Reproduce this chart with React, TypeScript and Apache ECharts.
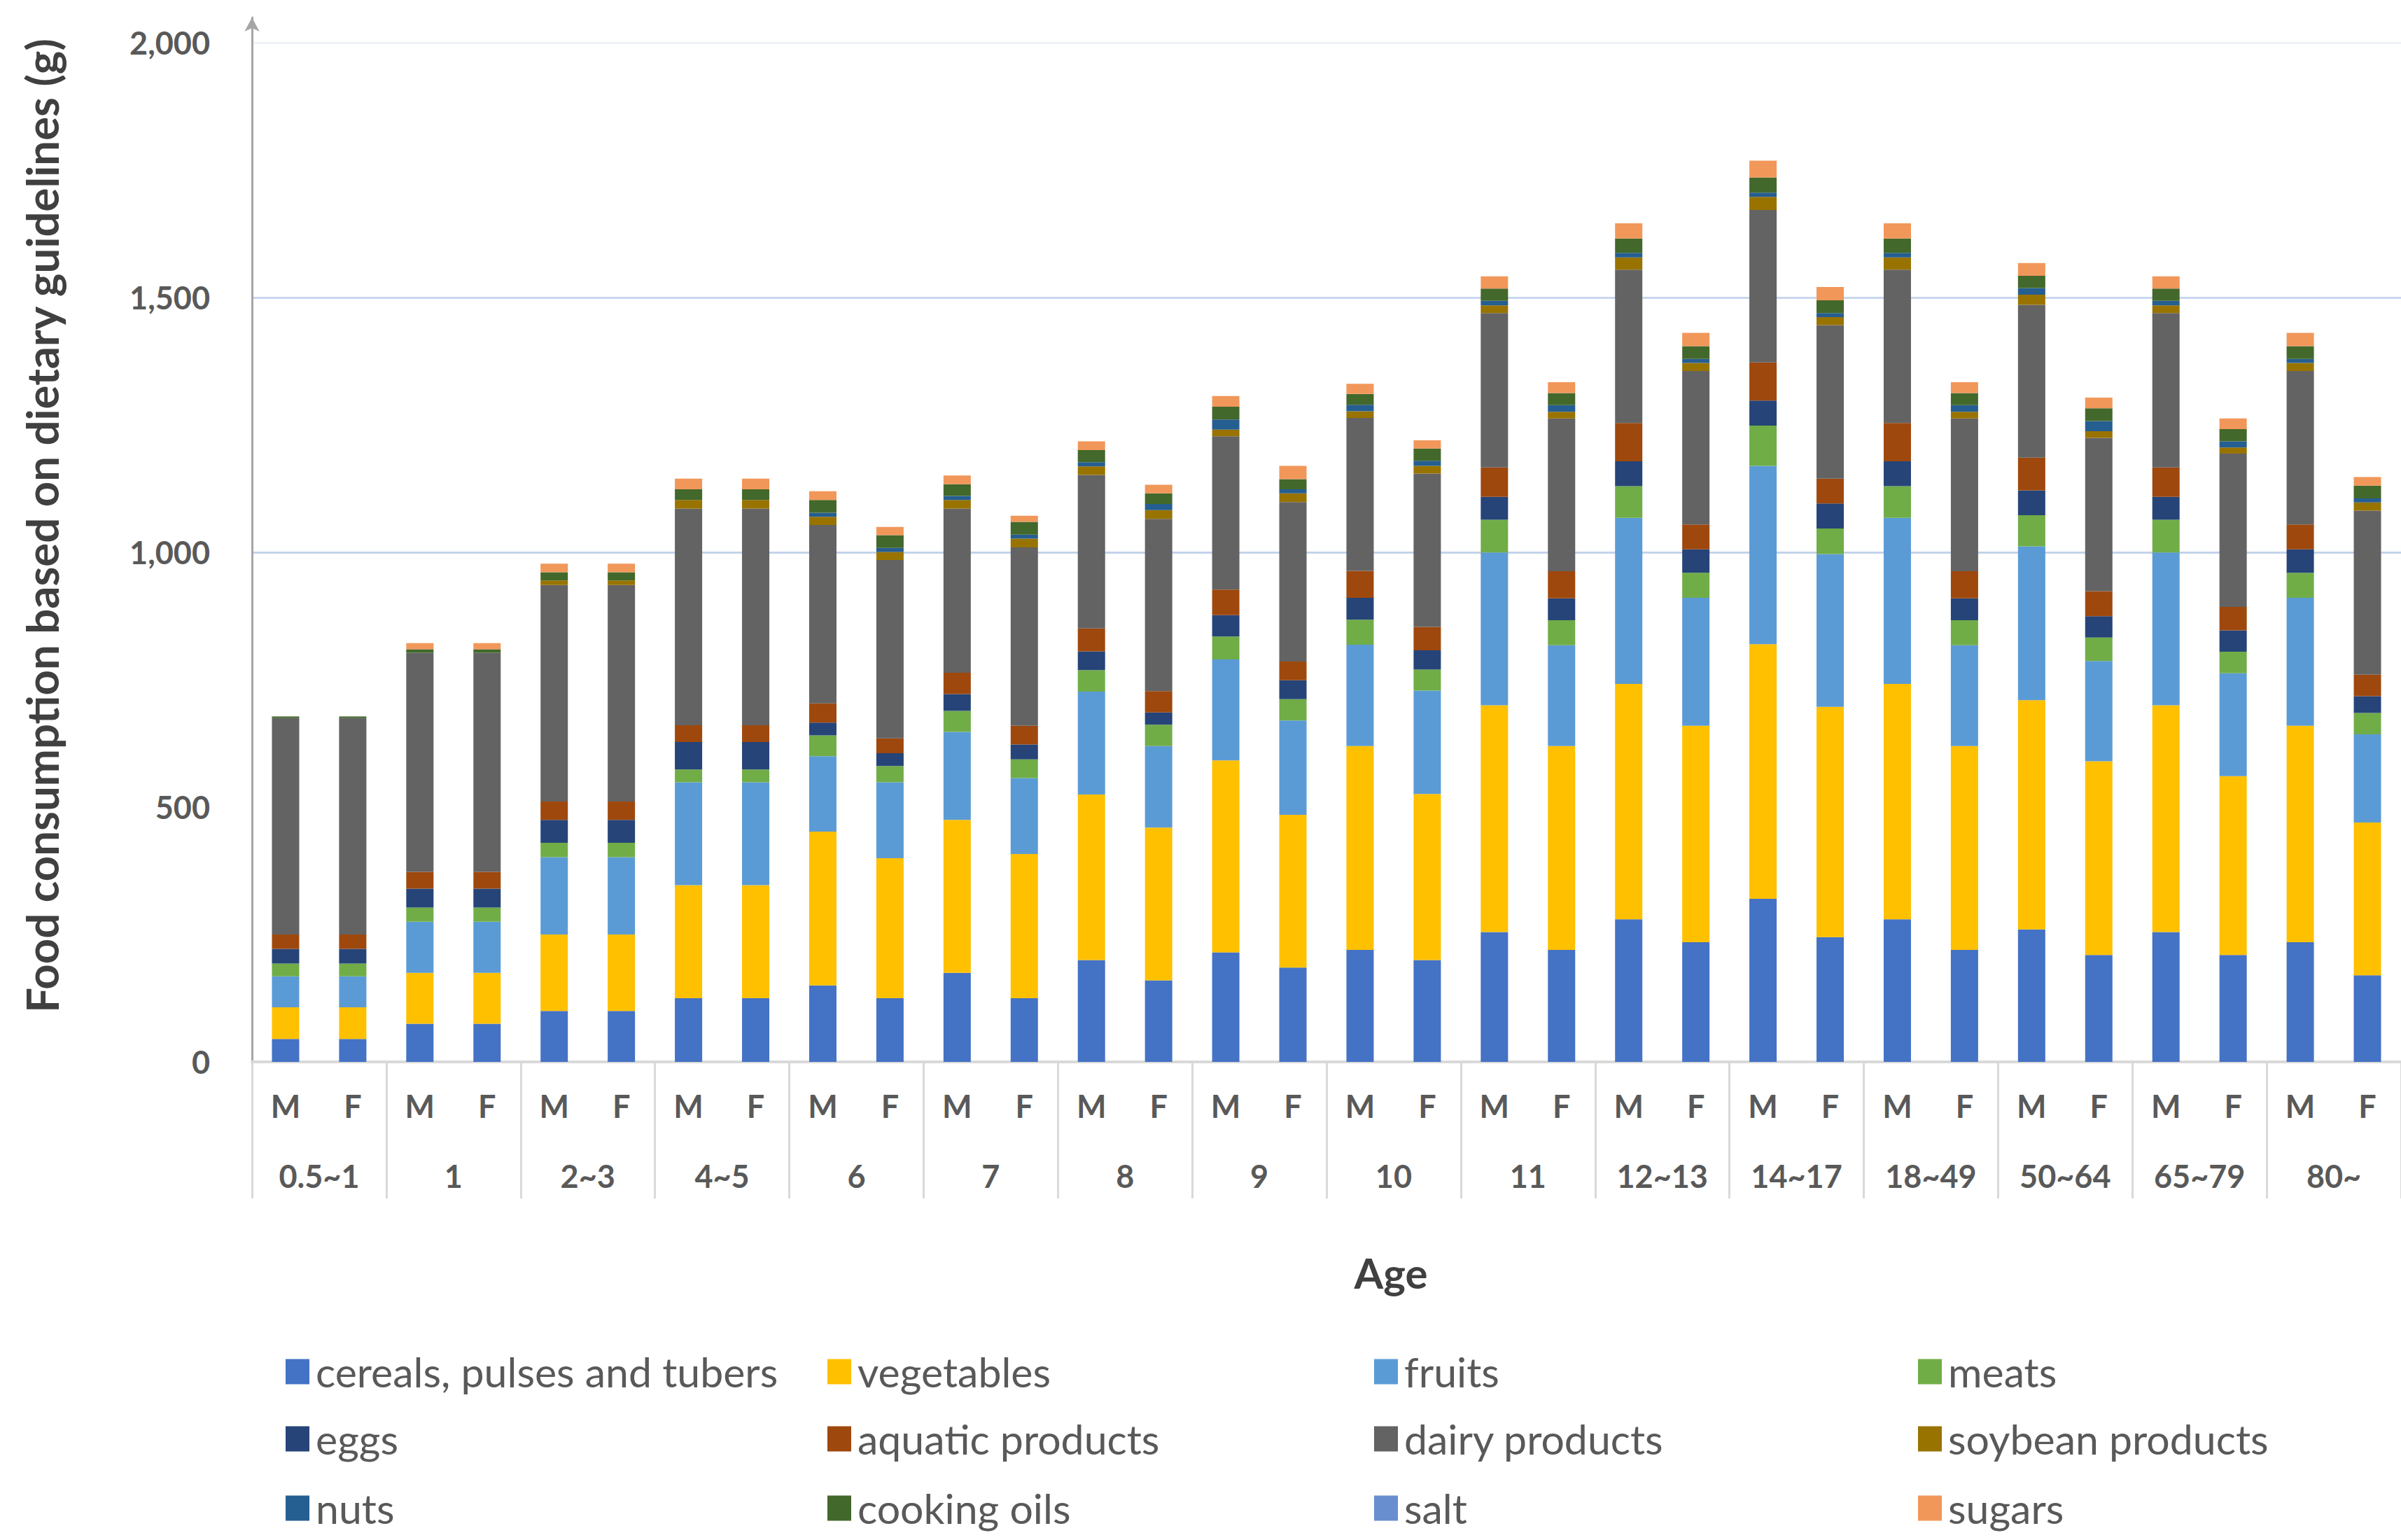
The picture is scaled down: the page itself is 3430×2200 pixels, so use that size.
import React, { useEffect, useRef } from "react";
import * as echarts from "echarts";

const ageGroups = ["0.5~1", "1", "2~3", "4~5", "6", "7", "8", "9", "10", "11", "12~13", "14~17", "18~49", "50~64", "65~79", "80~"];
const sexes = ["M", "F"];
const yTicks = [0, 500, 1000, 1500, 2000];

const seriesNames = [
  "cereals, pulses and tubers", "vegetables", "fruits", "meats",
  "eggs", "aquatic products", "dairy products", "soybean products",
  "nuts", "cooking oils", "salt", "sugars",
];
const seriesColors = [
  "#4472C4", "#FFC000", "#5B9BD5", "#70AD47",
  "#264478", "#9E480E", "#636363", "#997300",
  "#255E91", "#43682B", "#698ED0", "#F1975A",
];

const cereals = [45, 45, 75, 75, 100, 100, 125, 125, 150, 125, 175, 125, 200, 160, 215, 185, 220, 200, 255, 220, 280, 235, 320, 245, 280, 220, 260, 210, 255, 210, 235, 170];
const vegetables = [62, 62, 100, 100, 150, 150, 222, 222, 302, 275, 300, 283, 325, 300, 377, 300, 400, 326, 445, 400, 462, 425, 500, 452, 462, 400, 450, 380, 445, 351, 425, 300];
const fruits = [61, 61, 100, 100, 152, 152, 202, 202, 148, 149, 173, 149, 202, 160, 198, 185, 199, 203, 300, 198, 326, 251, 350, 300, 326, 198, 302, 197, 300, 202, 251, 173];
const meats = [25, 25, 28, 28, 28, 28, 25, 25, 41, 32, 41, 37, 42, 42, 45, 42, 49, 41, 64, 49, 62, 49, 79, 50, 62, 49, 61, 46, 64, 42, 49, 42];
const eggs = [29, 29, 37, 37, 45, 45, 54, 54, 25, 25, 33, 29, 37, 24, 42, 37, 43, 38, 45, 43, 49, 46, 49, 49, 49, 43, 49, 42, 45, 42, 46, 33];
const aquatic = [28, 28, 33, 33, 36, 36, 33, 33, 38, 29, 42, 37, 45, 42, 50, 37, 53, 46, 58, 53, 75, 49, 75, 49, 75, 53, 64, 49, 58, 46, 49, 42];
const dairy = [425, 425, 430, 430, 425, 425, 425, 425, 350, 350, 322, 350, 301, 338, 301, 313, 300, 301, 303, 300, 301, 301, 299, 301, 301, 300, 300, 301, 303, 301, 301, 322];
const soybean = [0, 0, 0, 0, 9, 9, 17, 17, 16, 16, 17, 17, 17, 17, 13, 17, 13, 15, 15, 13, 24, 16, 26, 16, 24, 13, 20, 13, 15, 12, 16, 16];
const nuts = [0, 0, 0, 0, 0, 0, 0, 0, 8, 8, 8, 8, 8, 12, 20, 8, 13, 10, 9, 13, 9, 8, 8, 8, 9, 13, 13, 20, 9, 12, 8, 8];
const oils = [3, 3, 7, 7, 16, 16, 21, 21, 25, 25, 23, 25, 24, 21, 25, 20, 21, 24, 24, 24, 28, 25, 30, 25, 28, 24, 24, 25, 24, 24, 25, 25];
const salt = [0, 0, 0, 0, 0, 0, 0, 0, 0, 0, 0, 0, 0, 0, 0, 0, 0, 0, 0, 0, 0, 0, 0, 0, 0, 0, 0, 0, 0, 0, 0, 0];
const sugars = [0, 0, 12, 12, 17, 17, 21, 21, 17, 16, 17, 12, 17, 17, 21, 26, 20, 16, 24, 21, 30, 26, 33, 26, 30, 21, 25, 21, 24, 21, 26, 17];

const seriesValues = [cereals, vegetables, fruits, meats, eggs, aquatic, dairy, soybean, nuts, oils, salt, sugars];

const yTitle = "Food consumption based on dietary guidelines (g)";
const xTitle = "Age";

const FONT = 'Lato, "Open Sans", sans-serif';

export default function App() {
  const ref = useRef<HTMLDivElement>(null);

  useEffect(() => {
    document.body.style.margin = "0";
    document.body.style.overflow = "hidden";
    if (!ref.current) return;
    const chart = echarts.init(ref.current, undefined, { renderer: "svg" });

    const sexLabels = ageGroups.flatMap(() => sexes);

    const legendLefts = [403, 1177, 1958, 2735];
    const legendTops = [1925, 2021, 2120];

    const legends = seriesNames.map((name, k) => ({
      orient: "horizontal",
      left: legendLefts[k % 4],
      top: legendTops[Math.floor(k / 4)],
      itemWidth: 34,
      itemHeight: 36,
      icon: "rect",
      selectedMode: false,
      data: [name],
      textStyle: {
        fontSize: 59,
        color: "#595959",
        fontFamily: FONT,
        padding: [0, 0, 0, 4],
      },
    }));

    const option: any = {
      animation: false,
      backgroundColor: "#ffffff",
      textStyle: { fontFamily: FONT },
      grid: { left: 360, right: 0, top: 25, bottom: 683, containLabel: false },
      xAxis: [
        {
          type: "category",
          data: sexLabels,
          position: "bottom",
          offset: 0,
          axisLine: { show: true, lineStyle: { color: "#d9d9d9", width: 4 } },
          axisTick: { show: false },
          axisLabel: {
            interval: 0,
            margin: 40,
            fontSize: 45,
            fontWeight: "bold",
            color: "#595959",
            fontFamily: FONT,
          },
          splitLine: { show: false },
        },
        {
          type: "category",
          data: ageGroups,
          position: "bottom",
          offset: 0,
          axisLine: { show: false },
          axisTick: {
            show: true,
            interval: 0,
            length: 195,
            lineStyle: { color: "#d9d9d9", width: 3 },
          },
          axisLabel: {
            interval: 0,
            margin: 140,
            fontSize: 45,
            fontWeight: "bold",
            color: "#595959",
            fontFamily: FONT,
          },
          splitLine: { show: false },
        },
      ],
      yAxis: {
        type: "value",
        min: 0,
        max: 2050,
        interval: 500,
        axisLine: {
          show: true,
          lineStyle: { color: "#a6a6a6", width: 3 },
          symbol: ["none", "arrow"],
          symbolSize: [16, 20],
        },
        axisTick: { show: false },
        axisLabel: {
          margin: 60,
          fontSize: 45,
          fontWeight: "bold",
          color: "#595959",
          fontFamily: FONT,
          formatter: (v: number) =>
            yTicks.includes(v) ? v.toLocaleString("en-US") : "",
        },
        splitLine: {
          show: true,
          lineStyle: {
            width: 3,
            color: ["rgba(0,0,0,0)", "rgba(0,0,0,0)", "#c3d3eb", "#c9d7ed", "#eef2f8", "rgba(0,0,0,0)"],
          },
        },
      },
      legend: legends,
      graphic: [
        {
          type: "text",
          x: 59,
          y: 751,
          rotation: Math.PI / 2,
          style: {
            text: yTitle,
            fontSize: 63.5,
            fontWeight: "bold",
            fill: "#404040",
            fontFamily: FONT,
            align: "center",
            verticalAlign: "middle",
          },
        },
        {
          type: "text",
          x: 1987,
          y: 1818,
          style: {
            text: xTitle,
            fontSize: 60,
            fontWeight: "bold",
            fill: "#404040",
            fontFamily: FONT,
            align: "center",
            verticalAlign: "middle",
          },
        },
      ],
      series: seriesNames.map((name, k) => ({
        name,
        type: "bar",
        stack: "total",
        xAxisIndex: 0,
        barWidth: 39,
        itemStyle: { color: seriesColors[k] },
        emphasis: { disabled: true },
        data: seriesValues[k],
      })),
    };

    chart.setOption(option);
    return () => chart.dispose();
  }, []);

  return <div ref={ref} style={{ width: "3430px", height: "2200px" }} />;
}
